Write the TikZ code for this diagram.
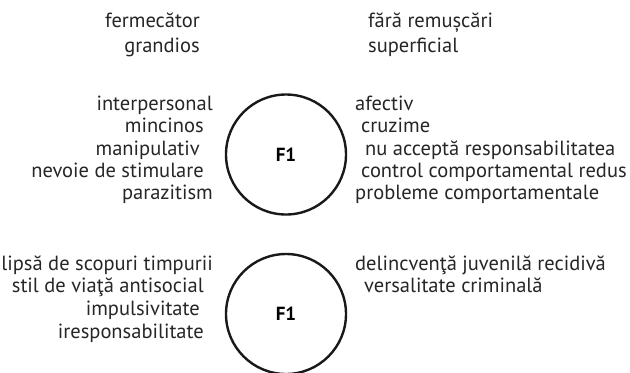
\documentclass[tikz,border=0pt]{standalone}
\usepackage{fontspec}
\setmainfont{PT Sans}
\begin{document}
\begin{tikzpicture}[x=1bp,y=-1bp,
  trt/.style={inner sep=0pt, text=black!85, font=\fontsize{20.5bp}{22bp}\selectfont},
  lt/.style={trt, anchor=base east},
  rt/.style={trt, anchor=base west},
  fac/.style={circle, draw=black!90, line width=2.4bp, minimum size=120bp, inner sep=0pt, font=\bfseries\fontsize{19bp}{20bp}\selectfont}]
\useasboundingbox (0,0) rectangle (630,372);
\node[fac] (fid0) at (286,154.5){F1};
\node[fac] (fid1) at (286,314){F1};
\node[lt] (lid0) at (200,27){fermecător};
\node[lt] (lid1) at (200,52){grandios};
\node[rt] (rid0) at (368,27){fără remușcări};
\node[rt] (rid1) at (368,52){superficial};
\node[lt] (lid2) at (213,110){interpersonal};
\node[lt] (lid3) at (204,132){mincinos};
\node[lt] (lid4) at (200,155){manipulativ};
\node[lt] (lid5) at (204,177){nevoie de stimulare};
\node[lt] (lid6) at (213,199){parazitism};
\node[rt] (rid2) at (355,110){afectiv};
\node[rt] (rid3) at (361,132){cruzime};
\node[rt] (rid4) at (365,155){nu acceptă responsabilitatea};
\node[rt] (rid5) at (361,177){control comportamental redus};
\node[rt] (rid6) at (355,199){probleme comportamentale};
\node[lt] (lid7) at (213,270){lipsă de scopuri timpurii};
\node[lt] (lid8) at (204,292){stil de viaţă antisocial};
\node[lt] (lid9) at (200,315){impulsivitate};
\node[lt] (lid10) at (204,338){iresponsabilitate};
\node[rt] (rid7) at (355,270){delincvenţă juvenilă recidivă};
\node[rt] (rid8) at (364,292){versalitate criminală};
\end{tikzpicture}
\end{document}
